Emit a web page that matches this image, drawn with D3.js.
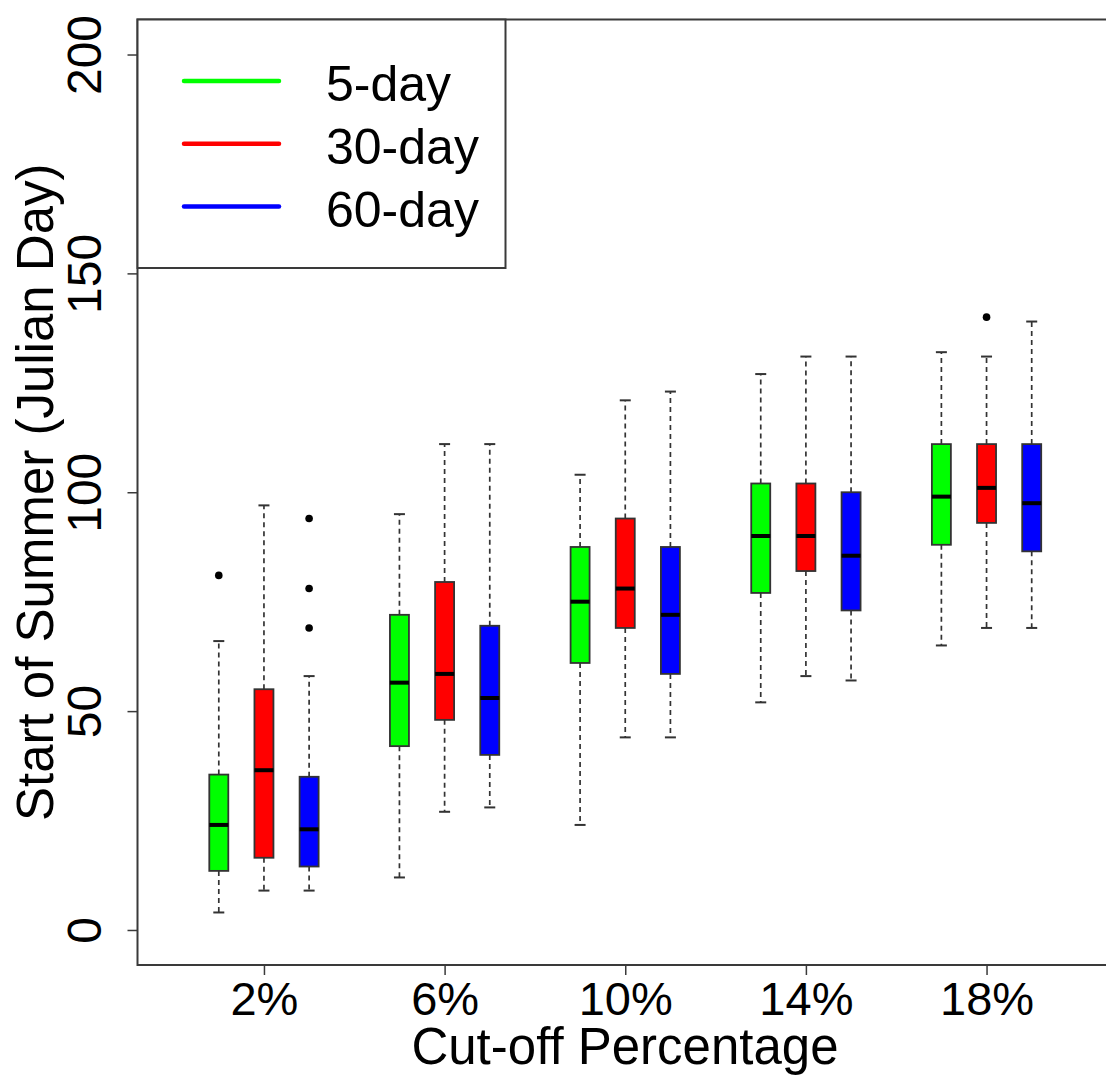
<!DOCTYPE html>
<html>
<head>
<meta charset="utf-8">
<script src="https://cdn.jsdelivr.net/npm/d3@7"></script>
<style>
  body { margin: 0; background: #fff; }
  svg text { font-family: "Liberation Sans", Arial, sans-serif; fill: #000; }
</style>
</head>
<body>
<div id="chart"></div>
<script>
// cut-off groups and moving-window series
const cutoffs = ["2%", "6%", "10%", "14%", "18%"];
const cutoffPos = [2, 6, 10, 14, 18];
const windows = ["5-day", "30-day", "60-day"];
const colors = ["#00ff00", "#ff0000", "#0000ff"];

// [lower whisker, q1, median, q3, upper whisker] per cut-off
const fiveDay = [
  [4, 13.5, 24, 35.5, 66],
  [12, 42, 56.5, 72, 95],
  [24, 61, 75, 87.5, 104],
  [52, 77, 90, 102, 127],
  [65, 88, 99, 111, 132]
];
const thirtyDay = [
  [9, 16.5, 36.5, 55, 97],
  [27, 48, 58.5, 79.5, 111],
  [44, 69, 78, 94, 121],
  [58, 82, 90, 102, 131],
  [69, 93, 101, 111, 131]
];
const sixtyDay = [
  [9, 14.5, 23, 35, 58],
  [28, 40, 53, 69.5, 111],
  [44, 58.5, 72, 87.5, 123],
  [57, 73, 85.5, 100, 131],
  [69, 86.5, 97.5, 111, 139]
];
// outliers per cut-off
const fiveDayOut = [[81], [], [], [], []];
const thirtyDayOut = [[], [], [], [], [140]];
const sixtyDayOut = [[69, 78, 94], [], [], [], []];

const yTicks = [0, 50, 100, 150, 200];

const series = [fiveDay, thirtyDay, sixtyDay];
const outs = [fiveDayOut, thirtyDayOut, sixtyDayOut];

const width = 1106, height = 1083;
const plotLeft = 137.5, plotTop = 19.5, plotBottom = 965, plotRight = 1113;
const boxW = 19;

const svg = d3.select("#chart").append("svg")
  .attr("width", width)
  .attr("height", height);

// x positions 1..19 with a gap slot between groups (as in at = c(1,2,3,5,6,7,...))
const x = d3.scaleLinear().domain([-0.8, 20.8]).range([plotLeft, plotRight]);
const y = d3.scaleLinear().domain([-8, 208]).range([plotBottom, plotTop]);

// build one table for the boxes
const boxes = [];
cutoffs.forEach((c, i) => {
  series.forEach((s, k) => {
    const v = s[i];
    boxes.push({
      pos: cutoffPos[i] + k - 1,
      color: colors[k],
      lo: v[0], q1: v[1], med: v[2], q3: v[3], hi: v[4],
      out: outs[k][i]
    });
  });
});

// frame
svg.append("rect")
  .attr("x", plotLeft).attr("y", plotTop)
  .attr("width", plotRight - plotLeft).attr("height", plotBottom - plotTop)
  .attr("fill", "none")
  .attr("stroke", "#3a3a3a")
  .attr("stroke-width", 2);

// axes
const yAxis = svg.append("g")
  .attr("transform", `translate(${plotLeft},0)`)
  .call(d3.axisLeft(y).tickValues(yTicks).tickSize(10).tickSizeOuter(0));
yAxis.select(".domain").remove();
yAxis.selectAll(".tick line").attr("stroke", "#3a3a3a").attr("stroke-width", 1.5);
yAxis.selectAll(".tick text")
  .attr("x", null).attr("dy", null)
  .attr("transform", "translate(-37,0) rotate(-90)")
  .attr("text-anchor", "middle")
  .style("font-size", "48px");

const xAxis = svg.append("g")
  .attr("transform", `translate(0,${plotBottom})`)
  .call(d3.axisBottom(x).tickValues(cutoffPos).tickFormat((d, i) => cutoffs[i]).tickSize(10).tickSizeOuter(0));
xAxis.select(".domain").remove();
xAxis.selectAll(".tick line").attr("stroke", "#3a3a3a").attr("stroke-width", 1.5);
xAxis.selectAll(".tick text")
  .attr("y", 50).attr("dy", null)
  .style("font-size", "47px");

svg.append("text")
  .attr("x", 625).attr("y", 1064)
  .attr("text-anchor", "middle")
  .style("font-size", "51px")
  .text("Cut-off Percentage");

svg.append("text")
  .attr("transform", `translate(53,${(plotTop + plotBottom) / 2}) rotate(-90)`)
  .attr("text-anchor", "middle")
  .style("font-size", "51px")
  .text("Start of Summer (Julian Day)");

// boxplots
const g = svg.selectAll("g.box")
  .data(boxes)
  .enter()
  .append("g")
  .attr("class", "box");

// whiskers
g.append("line")
  .attr("x1", d => x(d.pos)).attr("x2", d => x(d.pos))
  .attr("y1", d => y(d.q3)).attr("y2", d => y(d.hi))
  .attr("stroke", "#333").attr("stroke-width", 1.7)
  .attr("stroke-dasharray", "5,4");
g.append("line")
  .attr("x1", d => x(d.pos)).attr("x2", d => x(d.pos))
  .attr("y1", d => y(d.q1)).attr("y2", d => y(d.lo))
  .attr("stroke", "#333").attr("stroke-width", 1.7)
  .attr("stroke-dasharray", "5,4");

// staples
g.append("line")
  .attr("x1", d => x(d.pos) - 5.5).attr("x2", d => x(d.pos) + 5.5)
  .attr("y1", d => y(d.hi)).attr("y2", d => y(d.hi))
  .attr("stroke", "#333").attr("stroke-width", 2);
g.append("line")
  .attr("x1", d => x(d.pos) - 5.5).attr("x2", d => x(d.pos) + 5.5)
  .attr("y1", d => y(d.lo)).attr("y2", d => y(d.lo))
  .attr("stroke", "#333").attr("stroke-width", 2);

// box body
g.append("rect")
  .attr("x", d => x(d.pos) - boxW / 2)
  .attr("width", boxW)
  .attr("y", d => y(d.q3))
  .attr("height", d => y(d.q1) - y(d.q3))
  .attr("fill", d => d.color)
  .attr("stroke", "#333")
  .attr("stroke-width", 1.8);

// median
g.append("line")
  .attr("x1", d => x(d.pos) - boxW / 2).attr("x2", d => x(d.pos) + boxW / 2)
  .attr("y1", d => y(d.med)).attr("y2", d => y(d.med))
  .attr("stroke", "#000").attr("stroke-width", 4);

// outliers
g.selectAll("circle")
  .data(d => d.out.map(v => ({ pos: d.pos, v: v })))
  .enter()
  .append("circle")
  .attr("cx", d => x(d.pos))
  .attr("cy", d => y(d.v))
  .attr("r", 3.8)
  .attr("fill", "#000");

// legend
const legend = svg.append("g");
legend.append("rect")
  .attr("x", plotLeft).attr("y", plotTop)
  .attr("width", 505.5 - plotLeft).attr("height", 268 - plotTop)
  .attr("fill", "#fff")
  .attr("stroke", "#3a3a3a")
  .attr("stroke-width", 2);

const rows = legend.selectAll("g.row")
  .data(windows)
  .enter()
  .append("g")
  .attr("class", "row")
  .attr("transform", (d, i) => `translate(0,${81 + i * 62.8})`);

rows.append("line")
  .attr("x1", 184).attr("x2", 279)
  .attr("y1", 0).attr("y2", 0)
  .attr("stroke", (d, i) => colors[i])
  .attr("stroke-width", 4.5)
  .attr("stroke-linecap", "round");

rows.append("text")
  .attr("x", 326)
  .attr("y", 20)
  .style("font-size", "50px")
  .text(d => d);
</script>
</body>
</html>
